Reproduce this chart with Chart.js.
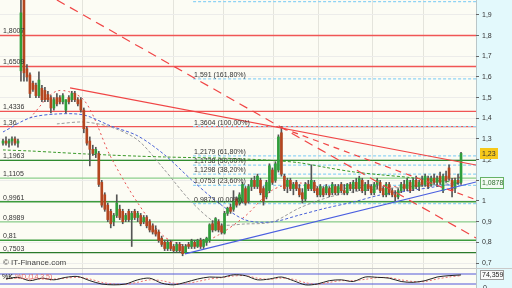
<!DOCTYPE html>
<html><head><meta charset="utf-8">
<script src="https://cdn.jsdelivr.net/npm/chart.js@4"></script>
<style>
html,body{margin:0;padding:0;background:#fff;overflow:hidden}
canvas{display:block}
</style></head><body>
<canvas id="main" width="512" height="269"></canvas>
<canvas id="stoch" width="512" height="19"></canvas>
<script>
// daily candles, one per index
const opens = [
  1.28,1.29,1.28,1.29,1.30,1.28,1.63,2.02,1.64,1.61,
  1.57,1.56,1.51,1.545,1.535,1.515,1.50,1.45,1.50,1.50,
  1.48,1.44,1.50,1.49,1.52,1.49,1.49,1.44,1.35,1.29,
  1.25,1.23,1.23,1.09,1.03,0.98,0.95,0.90,0.93,0.96,
  0.95,0.91,0.95,0.91,0.95,0.92,0.93,0.90,0.92,0.90,
  0.88,0.86,0.85,0.82,0.80,0.77,0.80,0.78,0.76,0.79,
  0.78,0.75,0.79,0.78,0.80,0.78,0.81,0.78,0.80,0.81,
  0.89,0.86,0.90,0.88,0.845,0.94,0.97,0.96,1.01,0.99,
  1.00,1.06,1.00,1.07,1.10,1.07,1.10,1.06,1.02,1.05,
  1.15,1.10,1.15,1.33,1.12,1.07,1.10,1.06,1.09,1.06,
  1.04,1.01,1.08,1.06,1.09,1.06,1.03,1.06,1.04,1.06,
  1.04,1.07,1.04,1.08,1.05,1.04,1.08,1.06,1.09,1.06,
  1.10,1.05,1.08,1.07,1.04,1.08,1.09,1.06,1.03,1.08,
  1.05,1.03,1.02,1.05,1.08,1.06,1.09,1.06,1.10,1.07,
  1.10,1.08,1.11,1.08,1.11,1.09,1.12,1.05,1.12,1.16,
  1.10,1.06,1.10,1.09
];
const highs = [
  1.30,1.31,1.30,1.31,1.31,1.30,2.05,2.10,1.66,1.62,
  1.58,1.57,1.625,1.56,1.55,1.53,1.51,1.50,1.52,1.51,
  1.52,1.49,1.51,1.53,1.53,1.50,1.50,1.45,1.36,1.31,
  1.27,1.26,1.24,1.10,1.04,0.99,0.96,0.94,1.03,0.98,
  0.96,0.94,0.96,0.95,0.96,0.95,0.94,0.93,0.93,0.91,
  0.89,0.88,0.86,0.83,0.81,0.81,0.81,0.79,0.80,0.80,
  0.79,0.79,0.80,0.815,0.81,0.815,0.82,0.815,0.825,0.89,
  0.905,0.92,0.91,0.89,0.95,0.97,0.985,1.05,1.02,1.04,
  1.09,1.07,1.08,1.11,1.12,1.13,1.11,1.07,1.10,1.18,
  1.16,1.19,1.32,1.36,1.13,1.11,1.11,1.09,1.10,1.08,
  1.06,1.09,1.10,1.175,1.10,1.07,1.08,1.07,1.08,1.07,
  1.09,1.08,1.08,1.09,1.08,1.085,1.09,1.10,1.11,1.12,
  1.11,1.09,1.10,1.08,1.09,1.11,1.10,1.07,1.09,1.09,
  1.06,1.05,1.06,1.09,1.10,1.11,1.10,1.11,1.12,1.10,
  1.12,1.13,1.12,1.12,1.13,1.12,1.14,1.13,1.145,1.175,
  1.11,1.11,1.13,1.235
];
const lows = [
  1.27,1.27,1.26,1.27,1.27,1.26,1.58,1.58,1.58,1.50,
  1.53,1.50,1.50,1.48,1.48,1.48,1.426,1.44,1.46,1.47,
  1.47,1.426,1.47,1.48,1.48,1.46,1.43,1.33,1.27,1.17,
  1.22,1.21,1.07,0.97,0.95,0.90,0.87,0.88,0.92,0.91,
  0.89,0.90,0.90,0.78,0.91,0.90,0.88,0.89,0.87,0.85,
  0.84,0.83,0.80,0.78,0.76,0.76,0.76,0.75,0.75,0.75,
  0.735,0.745,0.77,0.77,0.77,0.775,0.77,0.77,0.785,0.80,
  0.85,0.855,0.85,0.84,0.84,0.93,0.94,0.95,0.97,0.98,
  0.99,0.98,0.99,1.05,1.06,1.06,1.03,0.98,1.01,1.04,
  1.08,1.09,1.14,1.12,1.05,1.04,1.05,1.03,1.05,1.02,
  0.99,1.00,1.05,1.05,1.04,1.02,1.02,1.02,1.03,1.02,
  1.03,1.03,1.03,1.04,1.03,1.03,1.05,1.04,1.05,1.05,
  1.04,1.03,1.05,1.03,1.03,1.06,1.04,1.02,1.02,1.03,
  1.02,1.00,1.01,1.04,1.05,1.05,1.04,1.05,1.06,1.05,
  1.07,1.07,1.06,1.07,1.08,1.07,1.08,1.04,1.09,1.10,
  1.02,1.04,1.08,1.08
];
const closes = [
  1.29,1.28,1.29,1.30,1.28,1.29,1.91,1.62,1.60,1.52,
  1.54,1.51,1.585,1.49,1.49,1.49,1.45,1.49,1.47,1.48,
  1.51,1.49,1.48,1.52,1.49,1.47,1.44,1.35,1.28,1.25,
  1.23,1.25,1.08,0.98,0.96,0.91,0.89,0.93,0.99,0.92,
  0.90,0.93,0.91,0.94,0.92,0.94,0.89,0.92,0.88,0.86,
  0.85,0.84,0.81,0.79,0.77,0.80,0.77,0.76,0.79,0.76,
  0.745,0.78,0.78,0.805,0.78,0.81,0.78,0.81,0.82,0.885,
  0.86,0.915,0.86,0.85,0.94,0.965,0.95,1.00,0.98,1.03,
  1.08,0.99,1.07,1.10,1.07,1.12,1.04,1.00,1.09,1.17,
  1.09,1.18,1.31,1.13,1.06,1.10,1.06,1.08,1.06,1.03,
  1.01,1.08,1.06,1.10,1.05,1.03,1.07,1.03,1.07,1.03,
  1.08,1.04,1.07,1.05,1.04,1.08,1.06,1.09,1.06,1.11,
  1.05,1.08,1.06,1.04,1.08,1.10,1.05,1.03,1.08,1.04,
  1.03,1.02,1.05,1.08,1.06,1.10,1.05,1.10,1.07,1.09,
  1.08,1.12,1.07,1.11,1.09,1.11,1.09,1.12,1.10,1.11,
  1.05,1.10,1.09,1.23
];

// moving averages, read every 9th candle
const maStep = 9;
const maGreen = [1.247,1.242,1.235,1.228,1.222,1.217,1.213,1.210,1.208,1.203,1.196,1.185,1.162,1.141,1.127,1.115,1.100,1.0878];
const maBlue  = [1.334,1.402,1.421,1.416,1.363,1.315,1.223,1.102,0.991,0.908,0.899,0.932,0.966,0.995,1.029,1.048,1.068,1.087];
const maGray  = [null,null,1.373,1.382,1.358,1.295,1.150,0.995,0.889,0.889,0.899,0.966,1.015,1.044,1.058,1.068,1.078,1.087];
const maRed   = [null,1.402,1.532,1.489,1.213,0.991,0.826,0.782,0.836,0.928,1.053,1.087,1.063,1.063,1.073,1.068,1.092,1.116];

// horizontal levels
const redLevels = [1.8007, 1.6509, 1.4336, 1.36];
const redLabels = ['1,8007', '1,6509', '1,4336', '1,36'];
const greenLevels = [1.1963, 1.1105, 0.9961, 0.8989, 0.81, 0.7503];
const greenLabels = ['1,1963', '1,1105', '0,9961', '0,8989', '0,81', '0,7503'];
const greenColors = ['#2e8b2e', '#8ccf8c', '#3d9b3d', '#8ccf8c', '#3d9b3d', '#2a7a2a'];

// fibonacci projection
const fibValues = [0.9873, 1.0753, 1.1298, 1.1738, 1.2179, 1.3604, 1.591, 1.9641];
const fibLabels = ['0,9873 (0,00%)', '1,0753 (23,60%)', '1,1298 (38,20%)', '1,1738 (50,00%)',
                   '1,2179 (61,80%)', '1,3604 (100,00%)', '1,591 (161,80%)', '1,9641 (261,80%)'];
const fibFrom = 63.5;

// trend lines [index, price]
const trendRed = [[22.4, 1.547], [158, 1.174]];
const trendRedDash = [[18, 1.9726], [158, 0.821]];
const trendSpikeDash = [[93.2, 1.353], [158, 1.006]];
const trendBlue = [[60.8, 0.744], [158, 1.092]];

const monthIdx = [26.4, 56.8, 73.5, 90.2, 105.2, 123.3, 140.3];
const yTicks = [0.7, 0.8, 0.9, 1.0, 1.1, 1.2, 1.3, 1.4, 1.5, 1.6, 1.7, 1.8, 1.9];

// stochastic %K %D (14,3,5), read every 4th candle starting at 1
const stochStep = 4;
const stochK = [50,60,40,55,45,60,65,40,20,15,20,45,55,25,15,30,50,62,60,75,70,45,50,62,40,15,20,40,45,35,62,60,55,35,30,40,62,70,74.359];
const stochD = [50,55,50,50,50,55,60,50,30,20,18,30,45,40,25,22,35,50,58,68,70,55,48,55,48,28,18,30,40,40,48,58,58,45,35,35,50,62,70];
const stochLevels = [80, 20];

const lastPrice = 1.23;
const FONT = '"Liberation Sans Narrow","Liberation Sans",Arial,sans-serif';

const xMin = -1, xMax = 158;
const fmt = v => String(Math.round(v * 10) / 10).replace('.', ',');
const comma = v => String(v).replace('.', ',');

function seg(pts) { return pts.map(p => ({x: p[0], y: p[1]})); }
function maPts(arr) {
  const out = [];
  arr.forEach((v, k) => { if (v !== null) out.push({x: k * maStep, y: v}); });
  return out;
}
function hline(v, from) { return [{x: from, y: v}, {x: xMax, y: v}]; }

const up = closes.map((c, i) => c >= opens[i]);
const bodyColors = up.map(u => u ? '#2f9e3a' : '#b4461f');

const datasets = [];
// trend lines on top
datasets.push({type: 'line', data: seg(trendRed), borderColor: '#f04545', borderWidth: 1.2, pointRadius: 0, order: 0});
datasets.push({type: 'line', data: seg(trendRedDash), borderColor: '#f04545', borderWidth: 1.2, borderDash: [9, 6], pointRadius: 0, order: 0});
datasets.push({type: 'line', data: seg(trendSpikeDash), borderColor: '#f04545', borderWidth: 1.2, borderDash: [6, 5], pointRadius: 0, order: 0});
datasets.push({type: 'line', data: seg(trendBlue), borderColor: '#4a5ee0', borderWidth: 1.2, pointRadius: 0, order: 0});
// candles
datasets.push({type: 'bar', data: closes.map((c, i) => ({x: i, y: [opens[i], c]})),
  backgroundColor: bodyColors, barThickness: 2, grouped: false, order: 1});
datasets.push({type: 'bar', data: closes.map((c, i) => ({x: i, y: [lows[i], highs[i]]})),
  backgroundColor: '#555', barThickness: 1, grouped: false, order: 2});
// moving averages
datasets.push({type: 'line', data: maPts(maGreen), borderColor: '#3a9a2a', borderWidth: 1, borderDash: [3, 2], pointRadius: 0, tension: 0.3, order: 3});
datasets.push({type: 'line', data: maPts(maBlue), borderColor: '#4a62d8', borderWidth: 1, borderDash: [3, 2], pointRadius: 0, tension: 0.3, order: 3});
datasets.push({type: 'line', data: maPts(maGray), borderColor: '#9a9a9a', borderWidth: 1, borderDash: [3, 2], pointRadius: 0, tension: 0.3, order: 3});
datasets.push({type: 'line', data: maPts(maRed), borderColor: '#e85050', borderWidth: 1, borderDash: [2, 3], pointRadius: 0, tension: 0.3, order: 3});
// fibonacci
fibValues.forEach(v => datasets.push({type: 'line', data: hline(v, fibFrom), borderColor: '#8fd3f5', borderWidth: 1.2, borderDash: [3, 2], pointRadius: 0, order: 4}));
// levels
redLevels.forEach(v => datasets.push({type: 'line', data: hline(v, xMin), borderColor: '#f05555', borderWidth: 1.4, pointRadius: 0, order: 5}));
greenLevels.forEach((v, k) => datasets.push({type: 'line', data: hline(v, xMin), borderColor: greenColors[k], borderWidth: 1.4, pointRadius: 0, order: 5}));

function paintBg(chart) {
  const {ctx, chartArea: a, width, height} = chart;
  ctx.save();
  ctx.fillStyle = '#fcfcf4';
  ctx.fillRect(0, 0, a.right, height);
  ctx.fillStyle = '#e3f9fc';
  ctx.fillRect(a.right, 0, width - a.right, height);
  ctx.strokeStyle = '#b9c6c8';
  ctx.lineWidth = 1;
  ctx.beginPath(); ctx.moveTo(a.right + 0.5, 0); ctx.lineTo(a.right + 0.5, height); ctx.stroke();
  const xs = chart.scales.x;
  ctx.strokeStyle = '#e4e4dc';
  monthIdx.forEach(v => {
    const px = Math.round(xs.getPixelForValue(v)) + 0.5;
    ctx.beginPath(); ctx.moveTo(px, 0); ctx.lineTo(px, height); ctx.stroke();
  });
  ctx.restore();
}

function box(ctx, x, y, w, h, fill, stroke, text, color) {
  ctx.fillStyle = fill;
  ctx.fillRect(x, y, w, h);
  if (stroke) { ctx.strokeStyle = stroke; ctx.strokeRect(x + 0.5, y + 0.5, w - 1, h - 1); }
  ctx.fillStyle = color;
  ctx.textBaseline = 'middle';
  ctx.fillText(text, x + 2, y + h / 2 + 0.5);
  ctx.textBaseline = 'alphabetic';
}

function noPad(s) { s.width = 36; s.paddingTop = 0; s.paddingBottom = 0; }

const mainLabels = {
  id: 'mainLabels',
  beforeDraw: paintBg,
  afterDraw(chart) {
    const {ctx, chartArea: a, scales: {x, y}} = chart;
    ctx.save();
    ctx.font = '7px ' + FONT;
    ctx.fillStyle = '#333';
    redLevels.forEach((v, k) => ctx.fillText(redLabels[k], 3, y.getPixelForValue(v) - 2));
    greenLevels.forEach((v, k) => ctx.fillText(greenLabels[k], 3, y.getPixelForValue(v) - 2));
    const fx = x.getPixelForValue(fibFrom) + 1;
    fibValues.forEach((v, k) => {
      const py = y.getPixelForValue(v) - 2;
      if (py > 6) ctx.fillText(fibLabels[k], fx, py);
    });
    ctx.font = '8px ' + FONT;
    ctx.fillStyle = '#444';
    ctx.fillText('\u00a9 IT-Finance.com', 3, 265);
    // separator to lower panel
    ctx.strokeStyle = '#c9c9c9';
    ctx.beginPath(); ctx.moveTo(0, a.bottom - 0.5); ctx.lineTo(chart.width, a.bottom - 0.5); ctx.stroke();
    // axis price boxes
    ctx.font = '7px ' + FONT;
    box(ctx, 480, Math.round(y.getPixelForValue(lastPrice)) - 5, 18, 11, '#f6c81a', null, comma(lastPrice), '#333');
    const maLast = maGreen[maGreen.length - 1];
    box(ctx, 480, Math.round(y.getPixelForValue(maLast)) - 6, 24, 12, '#f2fbf2', '#66b266', comma(maLast), '#2f6f2f');
    ctx.restore();
  }
};

new Chart(document.getElementById('main'), {
  type: 'bar',
  data: {datasets},
  options: {
    responsive: false, animation: false, events: [],
    layout: {padding: 0},
    plugins: {legend: {display: false}, tooltip: {enabled: false}},
    scales: {
      x: {type: 'linear', display: false, offset: false, min: xMin, max: xMax},
      y: {
        position: 'right', min: 0.671, max: 1.9724,
        afterBuildTicks: s => { s.ticks = yTicks.map(v => ({value: v})); },
        afterFit: noPad,
        ticks: {font: {family: FONT, size: 7}, color: '#333', padding: 3, callback: v => fmt(v)},
        grid: {color: '#ececea', tickLength: 3, tickColor: '#666'},
        border: {display: false}
      }
    }
  },
  plugins: [mainLabels]
});

const stochLabels = {
  id: 'stochLabels',
  beforeDraw: paintBg,
  afterDraw(chart) {
    const {ctx, scales: {y}} = chart;
    ctx.save();
    ctx.font = '7px ' + FONT;
    ctx.fillStyle = '#111';
    ctx.fillText('%K', 2, 10);
    ctx.fillStyle = '#e06a6a';
    ctx.fillText('%D (14,3,5)', 15, 10);
    ctx.fillStyle = '#333';
    ctx.fillText('0', 483, y.getPixelForValue(0) + 3);
    const last = stochK[stochK.length - 1];
    box(ctx, 480, Math.round(y.getPixelForValue(last)) - 5, 24, 10, '#fafafa', '#9a9a9a', comma(last), '#222');
    ctx.restore();
  }
};

new Chart(document.getElementById('stoch'), {
  type: 'line',
  data: {
    datasets: [
      {data: stochK.map((v, k) => ({x: 1 + k * stochStep, y: v})), borderColor: '#222', borderWidth: 1, pointRadius: 0, tension: 0.3, order: 0},
      {data: stochD.map((v, k) => ({x: 1 + k * stochStep, y: v})), borderColor: '#ee7777', borderWidth: 1, borderDash: [2, 2], pointRadius: 0, tension: 0.3, order: 1},
      ...stochLevels.map(v => ({data: hline(v, xMin), borderColor: '#5258d8', borderWidth: 1, pointRadius: 0, order: 2}))
    ]
  },
  options: {
    responsive: false, animation: false, events: [],
    layout: {padding: 0},
    plugins: {legend: {display: false}, tooltip: {enabled: false}},
    scales: {
      x: {type: 'linear', display: false, min: xMin, max: xMax},
      y: {position: 'right', min: -4, max: 110, afterFit: noPad,
          ticks: {display: false}, grid: {display: false}, border: {display: false}}
    }
  },
  plugins: [stochLabels]
});
</script>
</body></html>
